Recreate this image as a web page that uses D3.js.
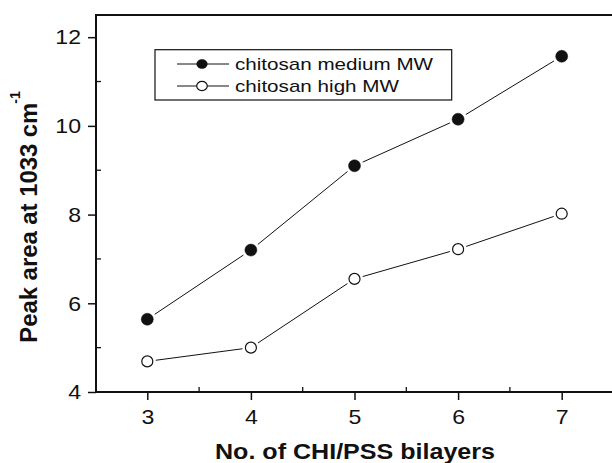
<!DOCTYPE html>
<html><head><meta charset="utf-8">
<script src="https://cdn.jsdelivr.net/npm/d3@7"></script>
<style>body{margin:0;background:#fff}svg{display:block}text{font-family:"Liberation Sans",Arial,sans-serif;fill:#111}</style>
</head><body><svg id="c" width="612" height="463"></svg>
<script>
const bilayers = [3, 4, 5, 6, 7];
const mediumMW = [5.64, 7.2, 9.1, 10.15, 11.57];
const highMW = [4.69, 5.0, 6.55, 7.22, 8.02];
const seriesNames = ["chitosan medium MW", "chitosan high MW"];
const yTicks = [4, 6, 8, 10, 12];
const xTicks = [3, 4, 5, 6, 7];

const svg = d3.select("#c");
const L = 96, T = 15, B = 392;
const x = d3.scaleLinear().domain([2.5, 7.5]).range([95.5, 613.5]);
const y = d3.scaleLinear().domain([4, 12.5]).range([B, T]);
const ink = "#111";

// frame
svg.append("line").attr("x1", L).attr("x2", 612).attr("y1", T).attr("y2", T).attr("stroke", ink).attr("stroke-width", 2);

// axes
const yAxis = svg.append("g").attr("transform", `translate(${L},0)`)
  .call(d3.axisLeft(y).tickValues(yTicks).tickSize(8).tickPadding(5).tickFormat(d3.format("d")));
const xAxis = svg.append("g").attr("transform", `translate(0,${B})`)
  .call(d3.axisBottom(x).tickValues(xTicks).tickSize(8).tickPadding(5).tickFormat(d3.format("d")));
[yAxis, xAxis].forEach(g => {
  g.select(".domain").attr("stroke", ink).attr("stroke-width", 2);
  g.selectAll(".tick line").attr("stroke", ink).attr("stroke-width", 1.5);
  g.selectAll(".tick text").attr("font-size", 21).attr("fill", ink)
    .style("font-family", '"Liberation Sans",Arial,sans-serif')
    .each(function(){ const w = this.getComputedTextLength(); d3.select(this).attr("textLength", w*1.1).attr("lengthAdjust","spacingAndGlyphs"); });
});
xAxis.select(".domain").attr("d", `M${L - 1},0H612`);
yAxis.select(".domain").attr("d", `M0,${B + 1}V${T - 1}`);
xAxis.selectAll(".tick text").attr("dy", "0.9em");
yAxis.selectAll(".tick text").attr("x", -15);

// minor ticks (inward)
const yMinor = [5, 7, 9, 11];
svg.append("g").selectAll("line").data(yMinor).join("line")
  .attr("x1", L).attr("x2", L + 5).attr("y1", d => y(d)).attr("y2", d => y(d)).attr("stroke", ink).attr("stroke-width", 1.3);
const xMinor = [3.5, 4.5, 5.5, 6.5];
svg.append("g").selectAll("line").data(xMinor).join("line")
  .attr("x1", d => x(d)).attr("x2", d => x(d)).attr("y1", B).attr("y2", B - 5).attr("stroke", ink).attr("stroke-width", 1.3);

// series
function drawSeries(vals, filled, r) {
  const pts = bilayers.map((b, i) => [x(b), y(vals[i])]);
  const g = svg.append("g");
  const gap = r + 3;
  for (let i = 0; i < pts.length - 1; i++) {
    const [x0, y0] = pts[i], [x1, y1] = pts[i + 1];
    const dx = x1 - x0, dy = y1 - y0, len = Math.hypot(dx, dy);
    const ux = dx / len, uy = dy / len;
    g.append("line").attr("x1", x0 + ux * gap).attr("y1", y0 + uy * gap)
      .attr("x2", x1 - ux * gap).attr("y2", y1 - uy * gap).attr("stroke", ink).attr("stroke-width", 1);
  }
  g.selectAll("circle").data(pts).join("circle").attr("cx", d => d[0]).attr("cy", d => d[1])
    .attr("r", r).attr("fill", filled ? ink : "#fff").attr("stroke", ink).attr("stroke-width", filled ? 0.5 : 1.2);
}
drawSeries(mediumMW, true, 6);
drawSeries(highMW, false, 5.5);

// legend
const lg = svg.append("g");
lg.append("rect").attr("x", 155).attr("y", 49.7).attr("width", 296.7).attr("height", 50.3)
  .attr("fill", "#fff").attr("stroke", ink).attr("stroke-width", 1.2);
const rows = [64, 86], lens = [198, 164];
seriesNames.forEach((n, i) => {
  lg.append("line").attr("x1", 177).attr("x2", 229).attr("y1", rows[i]).attr("y2", rows[i]).attr("stroke", ink).attr("stroke-width", 1);
  lg.append("ellipse").attr("cx", 202).attr("cy", rows[i]).attr("rx", 5.3).attr("ry", 4.6)
    .attr("fill", i === 0 ? ink : "#fff").attr("stroke", ink).attr("stroke-width", i === 0 ? 0.5 : 1.2);
  lg.append("text").attr("x", 235).attr("y", rows[i] + 6).attr("font-size", 17)
    .attr("textLength", lens[i]).attr("lengthAdjust", "spacingAndGlyphs").text(n);
});

// axis titles
svg.append("text").attr("x", 355).attr("y", 459.3).attr("text-anchor", "middle")
  .attr("font-size", 21.5).attr("font-weight", "bold").attr("textLength", 280).attr("lengthAdjust", "spacingAndGlyphs")
  .text("No. of CHI/PSS bilayers");
const yt = svg.append("g").attr("transform", "translate(37,342.7) rotate(-90)");
yt.append("text").attr("x", 0).attr("y", 0).attr("font-size", 23).attr("font-weight", "bold")
  .attr("textLength", 240).attr("lengthAdjust", "spacingAndGlyphs").text("Peak area at 1033 cm");
yt.append("text").attr("x", 239).attr("y", -17).attr("font-size", 14).attr("font-weight", "bold").text("-1");
</script></body></html>
